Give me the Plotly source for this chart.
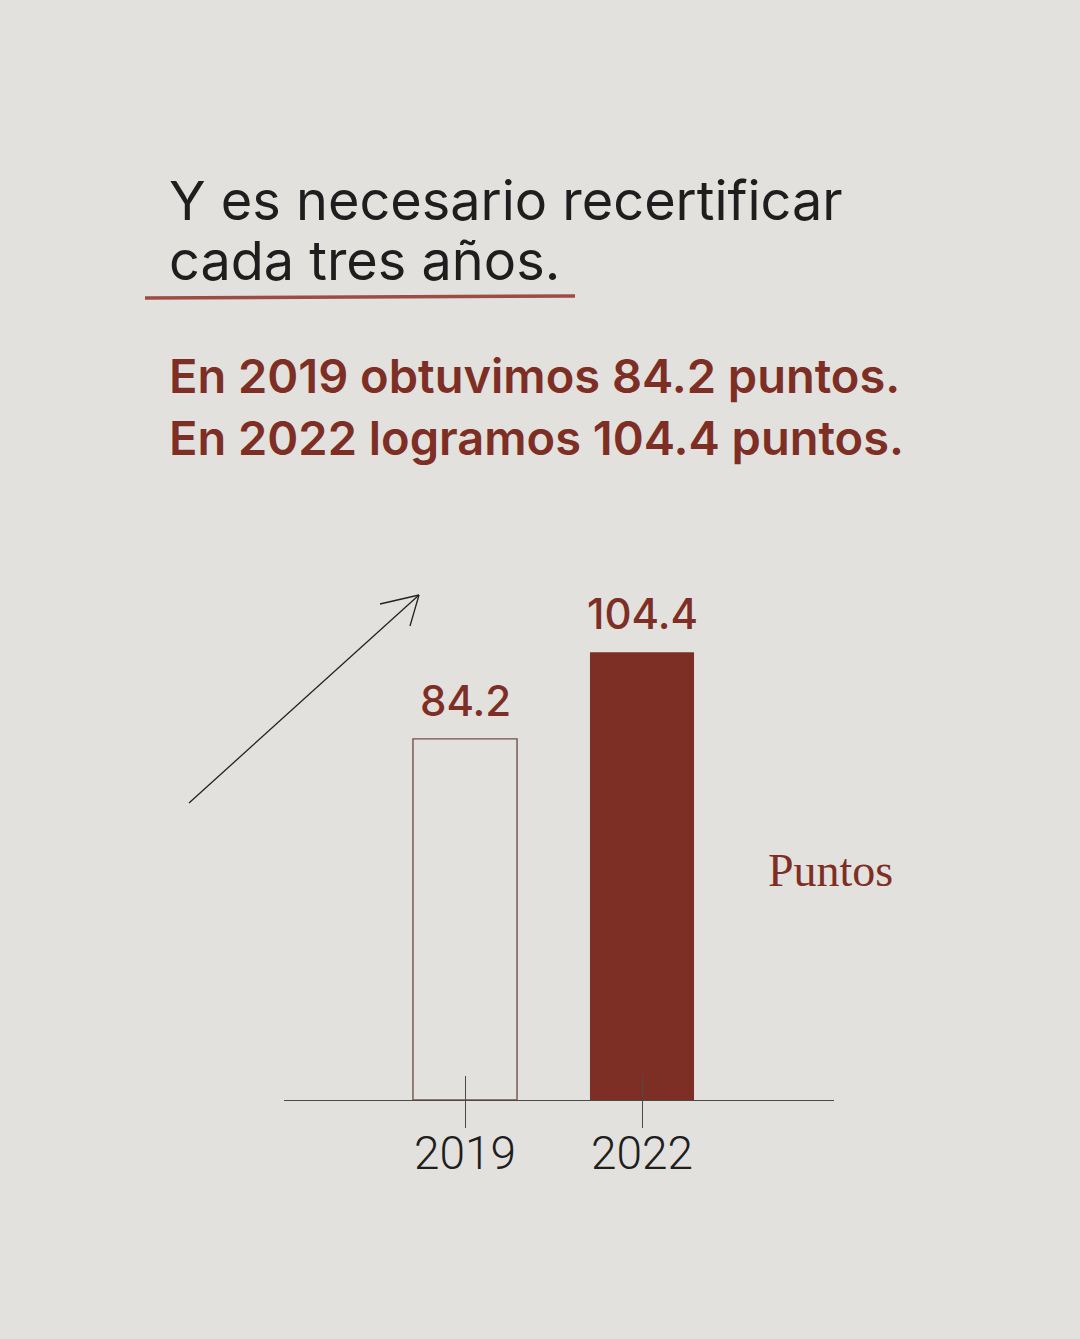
import plotly.graph_objects as go

# ---- data ----
years = ["2019", "2022"]
points = [84.2, 104.4]
value_labels = ["84.2", "104.4"]
title_lines = ["Y es necesario recertificar", "cada tres años."]
subtitle_lines = ["En 2019 obtuvimos 84.2 puntos.", "En 2022 logramos 104.4 puntos."]
unit_label = "Puntos"

# ---- styles ----
BG = "#e3e1dd"
RED = "#7e2f25"
DARK = "#1e1e1e"
W, H = 1080, 1339
L, R, T, B = 284, 246, 545, 239
plot_w = W - L - R
plot_h = H - T - B

def px(x):
    return (x - L) / plot_w

def py(y):
    return (H - B - y) / plot_h

fig = go.Figure()
fig.add_trace(go.Bar(
    x=years, y=points, width=0.588,
    marker=dict(color=["rgba(0,0,0,0)", RED],
                line=dict(color=["#74514b", RED], width=[1.4, 0])),
    hoverinfo="skip",
))

# value labels above bars (x given as category index)
for i, (v, lab) in enumerate(zip(points, value_labels)):
    fig.add_annotation(x=i, y=v, xref="x", yref="y", text=lab, showarrow=False,
                       yanchor="bottom", yshift=11,
                       font=dict(family="Inter", size=42, color=RED, weight=500))

# title lines
for i, t in enumerate(title_lines):
    fig.add_annotation(x=px(167), y=py([201, 261][i]), xref="paper", yref="paper",
                       text=t, showarrow=False, xanchor="left", yanchor="middle",
                       font=dict(family="Inter", size=54, color=DARK, weight=400))
# subtitle lines
for i, t in enumerate(subtitle_lines):
    fig.add_annotation(x=px(167), y=py([375, 437][i]), xref="paper", yref="paper",
                       text=t, showarrow=False, xanchor="left", yanchor="middle",
                       font=dict(family="Inter", size=47, color=RED, weight=600))

# unit label
fig.add_annotation(x=px(766), y=py(870), xref="paper", yref="paper", text=unit_label,
                   showarrow=False, xanchor="left", yanchor="middle",
                   font=dict(family="Liberation Serif", size=46, color=RED))

# decorative underline stroke
fig.add_shape(type="line", xref="paper", yref="paper",
              x0=px(145), y0=py(298), x1=px(575), y1=py(296),
              line=dict(color="#9e4c43", width=3.5))

# decorative arrow
fig.add_shape(type="line", xref="paper", yref="paper",
              x0=px(189), y0=py(803), x1=px(419), y1=py(595),
              line=dict(color="#222", width=1.3))
fig.add_shape(type="line", xref="paper", yref="paper",
              x0=px(380), y0=py(604), x1=px(419), y1=py(595),
              line=dict(color="#222", width=1.3))
fig.add_shape(type="line", xref="paper", yref="paper",
              x0=px(410), y0=py(626), x1=px(419), y1=py(595),
              line=dict(color="#222", width=1.3))

fig.update_layout(
    width=W, height=H,
    margin=dict(l=L, r=R, t=T, b=B),
    paper_bgcolor=BG, plot_bgcolor=BG,
    showlegend=False,
    xaxis=dict(type="category", range=[-1.0226, 2.0847],
               showline=True, linecolor="#4a4a4a", linewidth=1.3,
               ticks="outside", ticklen=27, tickwidth=1.3, tickcolor="#4a4a4a",
               ticklabelstandoff=-14,
               tickfont=dict(family="Roboto", size=46, color=DARK, weight=300),
               showgrid=False, zeroline=False, fixedrange=True),
    xaxis2=dict(type="category", overlaying="x", matches="x", anchor="y", side="bottom",
                ticks="inside", ticklen=24, tickwidth=1.3, tickcolor="#4a4a4a",
                showticklabels=False, showline=False, showgrid=False, zeroline=False),
    yaxis=dict(range=[0, 129.4], visible=False, fixedrange=True),
)
fig.add_trace(go.Scatter(x=years, y=[None, None], xaxis="x2", yaxis="y",
                         showlegend=False, hoverinfo="skip"))

fig.write_html("out.html")
